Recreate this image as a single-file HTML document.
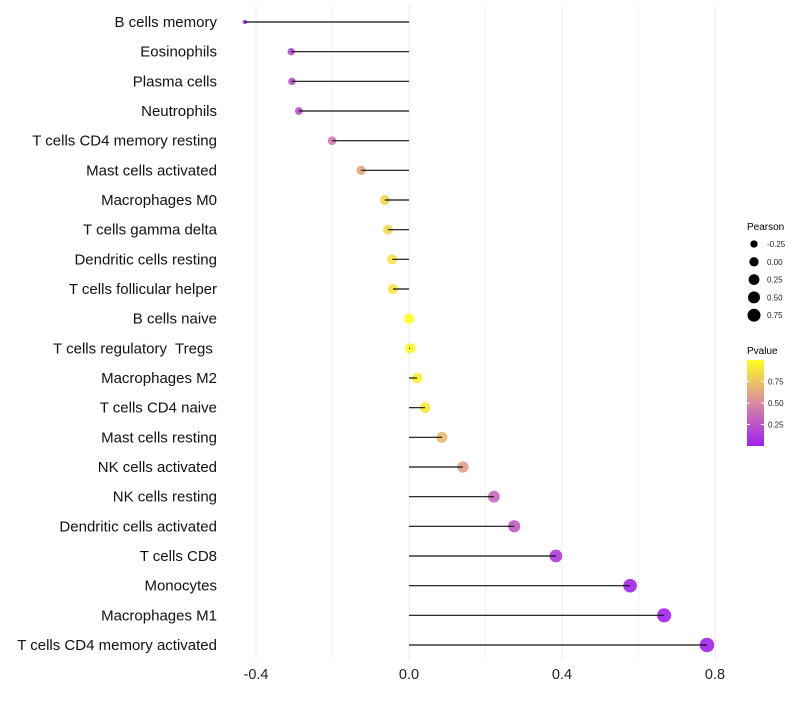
<!DOCTYPE html>
<html><head><meta charset="utf-8"><style>
body{margin:0;background:#fff;font-family:"Liberation Sans",sans-serif}
text{white-space:pre}
</style></head><body>
<svg id="chart" width="800" height="700" xmlns="http://www.w3.org/2000/svg" font-family="Liberation Sans, sans-serif">
<defs><linearGradient id="pg" x1="0" y1="1" x2="0" y2="0">
<stop offset="0" stop-color="#a020f0"/><stop offset="0.5" stop-color="#d98aa0"/><stop offset="1" stop-color="#ffff20"/></linearGradient></defs>
<g id="grid"></g><g id="marks"></g><g id="ylab"></g><g id="xlab"></g>
<g id="legS">
<text x="747" y="230" font-size="10" fill="#000">Pearson</text></g>
<g>
<text x="747" y="354" font-size="10" fill="#000">Pvalue</text>
<rect x="747" y="360" width="17" height="86" fill="url(#pg)"/>
<g font-size="8" fill="#222">
<line x1="747" x2="750" y1="381.5" y2="381.5" stroke="#fff"/><line x1="761" x2="764" y1="381.5" y2="381.5" stroke="#fff"/>
<line x1="747" x2="750" y1="403" y2="403" stroke="#fff"/><line x1="761" x2="764" y1="403" y2="403" stroke="#fff"/>
<line x1="747" x2="750" y1="424.5" y2="424.5" stroke="#fff"/><line x1="761" x2="764" y1="424.5" y2="424.5" stroke="#fff"/>
<text x="768" y="384.5">0.75</text><text x="768" y="406">0.50</text><text x="768" y="427.5">0.25</text></g>
</g>
</svg>
<script>
const categories=["B cells memory","Eosinophils","Plasma cells","Neutrophils","T cells CD4 memory resting","Mast cells activated","Macrophages M0","T cells gamma delta","Dendritic cells resting","T cells follicular helper","B cells naive","T cells regulatory  Tregs ","Macrophages M2","T cells CD4 naive","Mast cells resting","NK cells activated","NK cells resting","Dendritic cells activated","T cells CD8","Monocytes","Macrophages M1","T cells CD4 memory activated"];
const pearson=[-0.429,-0.308,-0.306,-0.288,-0.201,-0.125,-0.063,-0.055,-0.044,-0.042,0.0,0.003,0.021,0.042,0.086,0.141,0.222,0.275,0.384,0.578,0.667,0.779];
const pvalue=[0.03,0.2,0.2,0.22,0.42,0.62,0.82,0.85,0.88,0.88,1.0,0.99,0.93,0.9,0.7,0.58,0.33,0.27,0.12,0.03,0.01,0.0];
const xTicks=[-0.4,0.0,0.4,0.8];
const xTickLabels=["-0.4","0.0","0.4","0.8"];
const sizeLegend=[-0.25,0.0,0.25,0.5,0.75];
const sizeLegendLabels=["-0.25","0.00","0.25","0.50","0.75"];
const NS="http://www.w3.org/2000/svg";
const X=v=>409+v*382.5;
const Y=i=>22+i*(623/21);
const R=v=>2+5.3*Math.sqrt(Math.max(0,(v+0.43)/1.21));
function lerp(a,b,t){return a.map((x,i)=>Math.round(x+(b[i]-x)*t));}
function col(p){const s=[[160,32,240],[217,138,160],[255,255,32]];
 const c=p<0.5?lerp(s[0],s[1],p/0.5):lerp(s[1],s[2],(p-0.5)/0.5);return `rgb(${c})`;}
function mk(t,a,parent){const e=document.createElementNS(NS,t);for(const k in a)e.setAttribute(k,a[k]);parent.appendChild(e);return e;}
const grid=document.getElementById('grid'),marks=document.getElementById('marks'),ylab=document.getElementById('ylab'),xlab=document.getElementById('xlab');
for(let v=-0.4;v<=0.81;v+=0.2){const g=mk('line',{x1:X(v),x2:X(v),y1:5,y2:660,stroke:Math.abs((v*10/4)-Math.round(v*10/4))<0.01?'#ebebeb':'#f4f4f4','stroke-width':1},grid);
 
 }
xTicks.forEach((v,i)=>{const t=mk('text',{x:X(v),y:679,'font-size':14.5,'text-anchor':'middle',fill:'#222'},xlab);t.textContent=xTickLabels[i];
 
 });
categories.forEach((c,i)=>{const y=Y(i),v=pearson[i];
 const t=mk('text',{x:217,y:y+5,'font-size':15,'text-anchor':'end',fill:'#111'},ylab);t.textContent=c;
 
 
 const p=mk('circle',{cx:X(v),cy:y,r:R(v),fill:col(pvalue[i]),'fill-opacity':0.9},marks);
 
 
 const l=mk('line',{x1:X(0),x2:X(v),y1:y,y2:y,stroke:'#111','stroke-width':1.2},marks);
 
 });
const legS=document.getElementById('legS');
sizeLegend.forEach((v,i)=>{const y=244+i*17.8;
 const c=mk('circle',{cx:754,cy:y,r:R(v)*0.9,fill:'#000'},legS);
 
 
 const t=mk('text',{x:767,y:y+3,'font-size':8,fill:'#222'},legS);t.textContent=sizeLegendLabels[i];
 
 });
</script>
</body></html>
